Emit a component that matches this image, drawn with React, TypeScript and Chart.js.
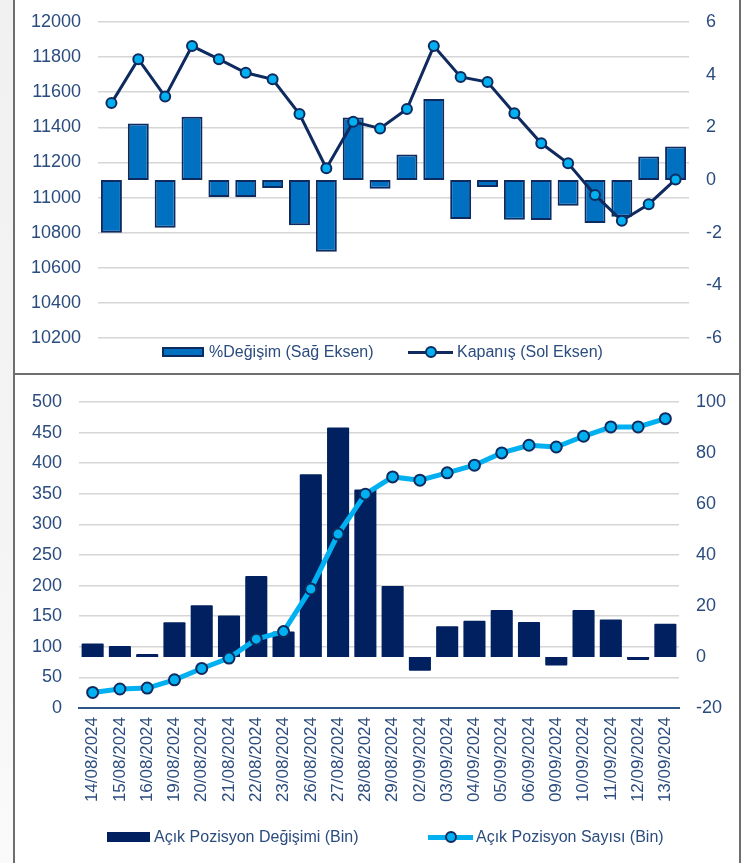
import React, { useEffect, useRef } from 'react';
import { Chart, registerables } from 'chart.js';

Chart.register(...registerables);

const dates = [
  '14/08/2024', '15/08/2024', '16/08/2024', '19/08/2024', '20/08/2024', '21/08/2024',
  '22/08/2024', '23/08/2024', '26/08/2024', '27/08/2024', '28/08/2024', '29/08/2024',
  '02/09/2024', '03/09/2024', '04/09/2024', '05/09/2024', '06/09/2024', '09/09/2024',
  '10/09/2024', '11/09/2024', '12/09/2024', '13/09/2024',
];

// Top panel
const pctChange = [-2.0, 2.15, -1.81, 2.4, -0.65, -0.65, -0.3, -1.72, -2.72, 2.37, -0.33, 0.97, 3.08, -1.48, -0.27, -1.51, -1.52, -0.98, -1.63, -1.4, 0.89, 1.27];
const closing = [11538, 11788, 11575, 11863, 11788, 11711, 11674, 11476, 11167, 11432, 11394, 11504, 11863, 11687, 11658, 11480, 11309, 11195, 11015, 10868, 10962, 11103];
const closingAxis = { min: 10200, max: 12000, step: 200 };
const pctAxis = { min: -6, max: 6, step: 2 };

// Bottom panel
const oiChange = [5.3, 4.3, 1.2, 13.6, 20.3, 16.3, 31.8, 10.0, 71.7, 90.0, 65.7, 27.8, -5.4, 12.1, 14.2, 18.4, 13.7, -3.3, 18.4, 14.7, -1.2, 13.0];
const oiCount = [25.4, 31.0, 32.6, 46.1, 64.6, 81.5, 112.5, 124.9, 194.5, 284.2, 349.4, 377.6, 372.2, 384.2, 396.7, 416.8, 429.3, 426.5, 444.0, 459.2, 459.2, 472.8];
const countAxis = { min: 0, max: 500, step: 50 };
const changeAxis = { min: -20, max: 100, step: 20 };

const labelsTop = { bar: '%Değişim (Sağ Eksen)', line: 'Kapanış (Sol Eksen)' };
const labelsBottom = { bar: 'Açık Pozisyon Değişimi (Bin)', line: 'Açık Pozisyon Sayısı (Bin)' };

const FONT = "'Liberation Sans', Arial, Helvetica, sans-serif";
const TEXT = '#2B4C7E';
const GRID = '#D6D6D6';
const NAVY = '#0E2A5E';
const SKY = '#00B0F0';
const BLUE = '#0070C0';
const DARKBAR = '#002060';
const FRAME = '#6E6E6E';

const numCb = (v: any) => String(v);

const fitY = (w: number) => (s: any) => {
  s.width = w;
  s.paddingTop = 0;
  s.paddingBottom = 0;
};

function TopChart() {
  const ref = useRef<HTMLCanvasElement>(null);
  useEffect(() => {
    const chart = new Chart(ref.current as HTMLCanvasElement, {
      type: 'bar',
      data: {
        labels: dates,
        datasets: [
          {
            type: 'line',
            label: labelsTop.line,
            data: closing,
            yAxisID: 'yL',
            borderColor: NAVY,
            borderWidth: 3,
            pointRadius: 5,
            pointBackgroundColor: SKY,
            pointBorderColor: NAVY,
            pointBorderWidth: 2,
            tension: 0,
            order: 0,
          } as any,
          {
            type: 'bar',
            label: labelsTop.bar,
            data: pctChange,
            yAxisID: 'yR',
            backgroundColor: BLUE,
            borderColor: NAVY,
            borderWidth: 2,
            borderSkipped: false,
            categoryPercentage: 1,
            barPercentage: 0.78,
            order: 1,
          } as any,
        ],
      },
      options: {
        responsive: false,
        animation: false,
        layout: { padding: { top: 22, bottom: 36, left: 0, right: 0 }, autoPadding: false },
        plugins: { legend: { display: false }, tooltip: { enabled: false } },
        scales: {
          x: { display: false, offset: true },
          yL: {
            position: 'left',
            min: closingAxis.min,
            max: closingAxis.max,
            ticks: { stepSize: closingAxis.step, color: TEXT, font: { family: FONT, size: 18 }, padding: 17, callback: numCb },
            grid: { color: GRID, lineWidth: 1.5, drawTicks: false },
            border: { display: false },
            afterFit: fitY(84),
          },
          yR: {
            position: 'right',
            min: pctAxis.min,
            max: pctAxis.max,
            ticks: { stepSize: pctAxis.step, color: TEXT, font: { family: FONT, size: 18 }, padding: 17, callback: numCb },
            grid: { display: false, drawTicks: false },
            border: { display: false },
            afterFit: fitY(51),
          },
        },
      } as any,
    });
    return () => chart.destroy();
  }, []);
  return <canvas ref={ref} width={726} height={374} style={{ position: 'absolute', left: 14, top: 0 }} />;
}

function BottomChart() {
  const ref = useRef<HTMLCanvasElement>(null);
  useEffect(() => {
    const chart = new Chart(ref.current as HTMLCanvasElement, {
      type: 'bar',
      data: {
        labels: dates,
        datasets: [
          {
            type: 'line',
            label: labelsBottom.line,
            data: oiCount,
            yAxisID: 'yL',
            borderColor: SKY,
            borderWidth: 5,
            pointRadius: 5.5,
            pointBackgroundColor: SKY,
            pointBorderColor: NAVY,
            pointBorderWidth: 2,
            tension: 0,
            order: 0,
          } as any,
          {
            type: 'bar',
            label: labelsBottom.bar,
            data: oiChange,
            yAxisID: 'yR',
            backgroundColor: DARKBAR,
            borderWidth: 0,
            borderRadius: 1,
            categoryPercentage: 1,
            barPercentage: 0.81,
            order: 1,
          } as any,
        ],
      },
      options: {
        responsive: false,
        animation: false,
        layout: { padding: { top: 28, bottom: 0, left: 0, right: 0 }, autoPadding: false },
        plugins: { legend: { display: false }, tooltip: { enabled: false } },
        scales: {
          x: {
            offset: true,
            grid: { display: false, drawTicks: false },
            border: { display: true, color: '#2E5585', width: 2 },
            ticks: {
              color: TEXT,
              font: { family: FONT, size: 17 },
              minRotation: 90,
              maxRotation: 90,
              autoSkip: false,
              padding: 9,
            },
            afterFit: (s: any) => { s.height = 155; },
          },
          yL: {
            position: 'left',
            min: countAxis.min,
            max: countAxis.max,
            ticks: { stepSize: countAxis.step, color: TEXT, font: { family: FONT, size: 18 }, padding: 17, callback: numCb },
            grid: { color: GRID, lineWidth: 1.5, drawTicks: false },
            border: { display: false },
            afterFit: fitY(65),
          },
          yR: {
            position: 'right',
            min: changeAxis.min,
            max: changeAxis.max,
            ticks: { stepSize: changeAxis.step, color: TEXT, font: { family: FONT, size: 18 }, padding: 17, callback: numCb },
            grid: { display: false, drawTicks: false },
            border: { display: false },
            afterFit: fitY(61),
          },
        },
      } as any,
    });
    return () => chart.destroy();
  }, []);
  return <canvas ref={ref} width={726} height={489} style={{ position: 'absolute', left: 14, top: 374 }} />;
}

const legendText: React.CSSProperties = {
  position: 'absolute',
  fontFamily: FONT,
  fontSize: 16,
  color: TEXT,
  whiteSpace: 'nowrap',
  lineHeight: '18px',
};

function LineSwatch({ x, cy, w, color, thick, dot }: { x: number; cy: number; w: number; color: string; thick: number; dot: number }) {
  return (
    <>
      <div style={{ position: 'absolute', left: x, top: cy - thick / 2, width: w, height: thick, background: color }} />
      <div
        style={{
          position: 'absolute',
          left: dot - 6,
          top: cy - 6,
          width: 8,
          height: 8,
          borderRadius: '50%',
          background: SKY,
          border: `2px solid ${NAVY}`,
        }}
      />
    </>
  );
}

export default function App() {
  return (
    <div
      style={{
        position: 'absolute',
        left: 0,
        top: 0,
        width: 749,
        height: 863,
        background: '#ffffff',
        overflow: 'hidden',
      }}
    >
      <div style={{ position: 'absolute', left: 0, top: 0, width: 14, height: 863, background: 'linear-gradient(#f1f1f1, #f4f4f4 60%, #fafafa)' }} />
      <div style={{ position: 'absolute', left: 13, top: 0, width: 2, height: 863, background: FRAME }} />
      <div style={{ position: 'absolute', left: 739, top: 0, width: 2, height: 863, background: FRAME }} />
      <div style={{ position: 'absolute', left: 14, top: 373, width: 726, height: 1.5, background: FRAME }} />

      <TopChart />
      <BottomChart />

      {/* top legend */}
      <div style={{ position: 'absolute', left: 162, top: 347, width: 38, height: 6, background: BLUE, border: `2px solid ${NAVY}` }} />
      <div style={{ ...legendText, left: 209, top: 343 }}>{labelsTop.bar}</div>
      <LineSwatch x={408} cy={352} w={45} color={NAVY} thick={3} dot={431} />
      <div style={{ ...legendText, left: 457, top: 343 }}>{labelsTop.line}</div>

      {/* bottom legend */}
      <div style={{ position: 'absolute', left: 107, top: 832, width: 43, height: 10, background: DARKBAR }} />
      <div style={{ ...legendText, left: 154, top: 828 }}>{labelsBottom.bar}</div>
      <LineSwatch x={428} cy={837} w={45} color={SKY} thick={5} dot={451} />
      <div style={{ ...legendText, left: 476, top: 828 }}>{labelsBottom.line}</div>
    </div>
  );
}
